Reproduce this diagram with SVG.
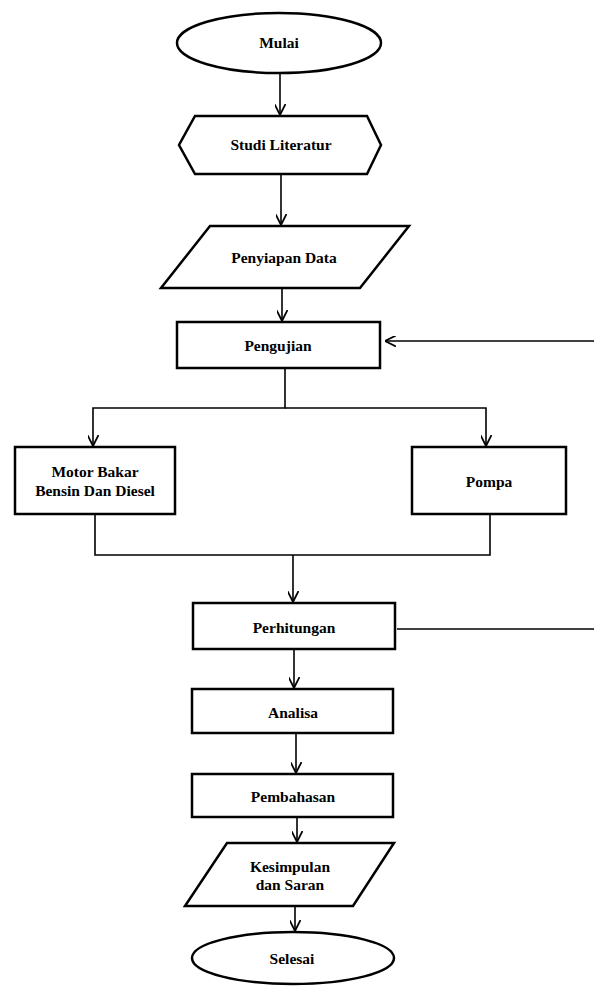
<svg xmlns="http://www.w3.org/2000/svg" width="594" height="988" viewBox="0 0 594 988">
<style>
.shape{fill:#fff;stroke:#000;stroke-width:2.5}
.conn{fill:none;stroke:#000;stroke-width:1.6}
.lbl{font-family:"Liberation Serif","Times New Roman",serif;font-weight:bold;font-size:15.5px;text-anchor:middle;fill:#000}
</style>
<defs>
<marker id="arr" viewBox="0 0 10 10" refX="10" refY="5" markerWidth="11" markerHeight="11" markerUnits="userSpaceOnUse" orient="auto">
<path d="M0,0 L10,5 L0,10" fill="none" stroke="#000" stroke-width="1.6"/>
</marker>
</defs>
<g id="connectors">
<line class="conn" x1="280" y1="73" x2="280" y2="115" marker-end="url(#arr)"/>
<line class="conn" x1="281" y1="174" x2="281" y2="225" marker-end="url(#arr)"/>
<line class="conn" x1="282" y1="288" x2="282" y2="321" marker-end="url(#arr)"/>
<line class="conn" x1="594" y1="341" x2="385" y2="341" marker-end="url(#arr)"/>
<polyline class="conn" points="285,368 285,408 93,408 93,446" marker-end="url(#arr)"/>
<polyline class="conn" points="285,408 486,408 486,446" marker-end="url(#arr)"/>
<polyline class="conn" points="95,514 95,555 490,555 490,514"/>
<line class="conn" x1="293" y1="555" x2="293" y2="602" marker-end="url(#arr)"/>
<line class="conn" x1="397" y1="629" x2="594" y2="629"/>
<line class="conn" x1="294" y1="649" x2="294" y2="688" marker-end="url(#arr)"/>
<line class="conn" x1="296" y1="733" x2="296" y2="773" marker-end="url(#arr)"/>
<line class="conn" x1="297" y1="817" x2="297" y2="842" marker-end="url(#arr)"/>
<line class="conn" x1="295" y1="906" x2="295" y2="931" marker-end="url(#arr)"/>
</g>
<g id="mulai">
<ellipse class="shape" cx="279" cy="43" rx="102" ry="30"/>
<text class="lbl" x="279" y="48">Mulai</text>
</g>
<g id="studi-literatur">
<polygon class="shape" points="195,116 367,116 381,145 367,174 195,174 179,145"/>
<text class="lbl" x="281" y="150">Studi Literatur</text>
</g>
<g id="penyiapan-data">
<polygon class="shape" points="210,226 409,226 360,288 161,288"/>
<text class="lbl" x="284" y="263">Penyiapan Data</text>
</g>
<g id="pengujian">
<rect class="shape" x="177" y="322" width="203" height="46"/>
<text class="lbl" x="278" y="351">Pengujian</text>
</g>
<g id="motor-bakar">
<rect class="shape" x="15" y="447" width="160" height="67"/>
<text class="lbl" x="95" y="477">Motor Bakar</text>
<text class="lbl" x="95" y="496">Bensin Dan Diesel</text>
</g>
<g id="pompa">
<rect class="shape" x="412" y="447" width="154" height="67"/>
<text class="lbl" x="489" y="487">Pompa</text>
</g>
<g id="perhitungan">
<rect class="shape" x="193" y="603" width="202" height="46"/>
<text class="lbl" x="294" y="633">Perhitungan</text>
</g>
<g id="analisa">
<rect class="shape" x="192" y="689" width="201" height="44"/>
<text class="lbl" x="293" y="718">Analisa</text>
</g>
<g id="pembahasan">
<rect class="shape" x="192" y="774" width="201" height="43"/>
<text class="lbl" x="293" y="802">Pembahasan</text>
</g>
<g id="kesimpulan">
<polygon class="shape" points="227,843 394,843 353,906 185,906"/>
<text class="lbl" x="290" y="872">Kesimpulan</text>
<text class="lbl" x="290" y="890">dan Saran</text>
</g>
<g id="selesai">
<ellipse class="shape" cx="293" cy="958" rx="101" ry="26"/>
<text class="lbl" x="292" y="964">Selesai</text>
</g>
</svg>
